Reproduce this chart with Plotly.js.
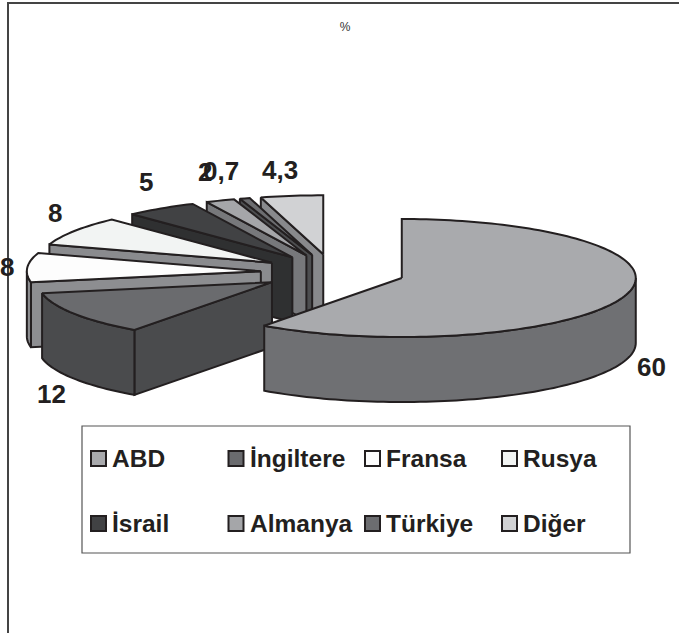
<!DOCTYPE html>
<html>
<head>
<meta charset="utf-8">
<script src="https://cdn.plot.ly/plotly-3.0.0.min.js"></script>
<style>html,body{margin:0;padding:0;background:#fff}</style>
</head>
<body>
<div id="chart" style="width:679px;height:633px"></div>
<script>
// Share of each supplier, in percent, clockwise from twelve o'clock
const categories = ['ABD', 'İngiltere', 'Fransa', 'Rusya', 'İsrail', 'Almanya', 'Türkiye', 'Diğer'];
const shares = [60, 12, 8, 8, 5, 2, 0.7, 4.3];

// Face and wall greys per slice
const topColors = ['#a9aaad', '#6a6b6e', '#fdfdfd', '#f2f4f3', '#414244', '#a5a6a9', '#6c6d70', '#d1d2d4'];
const wallColors = ['#6f7073', '#4a4b4d', '#8d8e91', '#8a8b8e', '#2f3031', '#77787b', '#4d4e50', '#88898c'];

// Label placement (page pixels), same order as categories
const labelX = [651, 51, 7, 55, 146, 204.5, 221, 280];
const labelY = [367, 394, 267, 213, 182, 172, 171, 170];

// Legend grid (page pixels)
const legendColX = [98.5, 236, 372.5, 509.5];
const legendRowY = [458.5, 523.5];

// Projection of the tilted pie
const CX = 333, CY = 272.4, RX = 234, RY = 59, DEPTH = 65, EXPLODE = 0.309;
const INK = '#231f20';

const rad = d => d * Math.PI / 180;
const total = shares.reduce((a, b) => a + b, 0);

function rim(apex, deg, drop) {
  return [apex[0] + RX * Math.sin(rad(deg)), apex[1] - RY * Math.cos(rad(deg)) + drop];
}
function arc(apex, from, to, drop) {
  const n = Math.max(2, Math.ceil(Math.abs(to - from) / 1.5));
  const pts = [];
  for (let i = 0; i <= n; i++) pts.push(rim(apex, from + (to - from) * i / n, drop));
  return pts;
}
function polygon(pts, fill) {
  const closed = pts.concat([pts[0]]);
  return {
    type: 'scatter', mode: 'lines', fill: 'toself', fillcolor: fill,
    x: closed.map(p => p[0]), y: closed.map(p => p[1]),
    line: { color: INK, width: 2, simplify: false },
    hoverinfo: 'skip', showlegend: false
  };
}

// Slice angles and exploded apexes
let running = 0;
const slices = shares.map((v, i) => {
  const start = running / total * 360;
  running += v;
  const end = running / total * 360;
  const mid = (start + end) / 2;
  const apex = [CX + EXPLODE * RX * Math.sin(rad(mid)), CY - EXPLODE * RY * Math.cos(rad(mid))];
  return { i, start, end, apex };
});

// Painted back to front: the smallest rear slices first, the big front slice last
const paintOrder = [7, 6, 5, 4, 3, 2, 1, 0];
const traces = [];
paintOrder.forEach(k => {
  const s = slices[k];
  if (s.start >= 180) {
    traces.push(polygon([
      s.apex, rim(s.apex, s.start, 0), rim(s.apex, s.start, DEPTH), [s.apex[0], s.apex[1] + DEPTH]
    ], wallColors[k]));
  }
  const from = Math.max(s.start, 90), to = Math.min(s.end, 270);
  if (to > from) {
    traces.push(polygon(arc(s.apex, from, to, 0).concat(arc(s.apex, to, from, DEPTH)), wallColors[k]));
  }
  traces.push(polygon([s.apex].concat(arc(s.apex, s.start, s.end, 0)), topColors[k]));
});

// Legend swatches
const swatchX = categories.map((c, i) => legendColX[i % 4]);
const swatchY = categories.map((c, i) => legendRowY[Math.floor(i / 4)]);
traces.push({
  type: 'scatter', mode: 'markers', x: swatchX, y: swatchY, hoverinfo: 'skip', showlegend: false,
  marker: { symbol: 'square', size: 15, color: topColors, line: { color: INK, width: 2 } }
});

const family = '"Liberation Sans", Arial, sans-serif';
const annotations = [];
shares.forEach((v, i) => annotations.push({
  x: labelX[i], y: labelY[i], xref: 'x', yref: 'y', showarrow: false,
  text: '<b>' + String(v).replace('.', ',') + '</b>',
  font: { family: family, size: 26, color: INK }, xanchor: 'center', yanchor: 'middle'
}));
categories.forEach((c, i) => annotations.push({
  x: swatchX[i] + 13.5, y: swatchY[i], xref: 'x', yref: 'y', showarrow: false,
  text: '<b>' + c + '</b>',
  font: { family: family, size: 24.5, color: INK }, xanchor: 'left', yanchor: 'middle', xshift: -2
}));

const frame = { color: '#444444', width: 2 };
const layout = {
  width: 679, height: 633, margin: { l: 0, r: 0, t: 0, b: 0 },
  paper_bgcolor: '#ffffff', plot_bgcolor: '#ffffff', showlegend: false,
  title: {
    text: '%', x: 345 / 679, y: 1 - 27 / 633, xanchor: 'center', yanchor: 'middle',
    font: { family: family, size: 12, color: '#333333' }
  },
  xaxis: { range: [0, 679], visible: false, fixedrange: true },
  yaxis: { range: [633, 0], visible: false, fixedrange: true },
  shapes: [
    { type: 'line', xref: 'x', yref: 'y', x0: 8, x1: 8, y0: 2, y1: 633, line: frame },
    { type: 'line', xref: 'x', yref: 'y', x0: 8, x1: 679, y0: 3, y1: 3, line: frame },
    { type: 'rect', xref: 'x', yref: 'y', x0: 82, x1: 630, y0: 426, y1: 553, line: { color: '#555555', width: 1.2 }, fillcolor: 'rgba(0,0,0,0)' }
  ],
  annotations: annotations
};
Plotly.newPlot('chart', traces, layout, { displayModeBar: false, staticPlot: true });
</script>
</body>
</html>
